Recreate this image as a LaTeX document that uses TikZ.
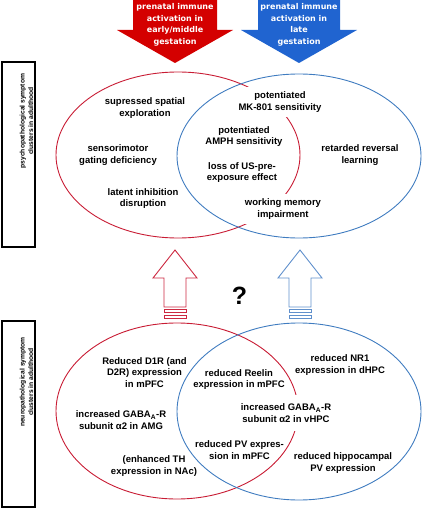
\documentclass[tikz,border=0pt]{standalone}
\usepackage{fontspec}
\setmainfont{Liberation Sans}
\newfontfamily\arrowfont{DejaVu Sans}
\usepackage{tikz}
\usetikzlibrary{shapes}

\definecolor{ArrowRed}{RGB}{212,0,0}
\definecolor{ArrowBlue}{RGB}{32,100,208}
\definecolor{RingRed}{RGB}{200,28,52}
\definecolor{RingBlue}{RGB}{64,124,192}
\definecolor{HollowRed}{RGB}{204,40,64}
\definecolor{HollowBlue}{RGB}{96,144,204}

\begin{document}
\begin{tikzpicture}[x=1pt, y=-1pt,
  ring/.style={draw, ellipse, line width=0.9pt, inner sep=0pt},
  lbl/.style={align=center, inner sep=1pt, font=\bfseries\fontsize{9.5}{11.5}\selectfont},
  cover/.style={fill=white, inner ysep=5pt},
  sidebox/.style={draw, line width=1.1pt, minimum width=33, minimum height=185, inner sep=0pt},
  sidetext/.style={rotate=90, align=center, inner sep=0pt, font=\bfseries\fontsize{6.7}{8.5}\selectfont},
  arrowtext/.style={align=center, text=white, inner sep=0pt, font=\arrowfont\bfseries\fontsize{8}{11.5}\selectfont}]

\fill[ArrowRed] (133,0) -- (217,0) -- (217,30) -- (233,30) -- (175,63) -- (117,30) -- (133,30) -- cycle;
\fill[ArrowBlue] (258,0) -- (340,0) -- (340,30) -- (357,30) -- (299,63) -- (241,30) -- (258,30) -- cycle;
\node[arrowtext] (early) at (175,25) {prenatal immune\\activation in\\early/middle\\gestation};
\node[arrowtext] (late) at (299,25) {prenatal immune\\activation in\\late\\gestation};

\node[sidebox] (psybox) at (18.5,154.5) {};
\node[sidetext] (psytext) at (26.5,121) {psychopathological symptom\\clusters in adulthood};
\node[sidebox, minimum height=186] (neurobox) at (18.5,414) {};
\node[sidetext] (neurotext) at (26.5,382) {neuropathological symptom\\clusters in adulthood};

\node[ring, RingRed, minimum width=244, minimum height=166] (psyearly) at (178,155) {};
\node[ring, RingBlue, minimum width=244, minimum height=164] (psylate) at (299,156) {};

\node[lbl] (spatial) at (145,108) {supressed spatial\\exploration};
\node[lbl] (gating) at (118,155) {sensorimotor\\gating deficiency};
\node[lbl] (latent) at (143,198.5) {latent inhibition\\disruption};
\node[lbl, cover] (mk) at (280,102) {potentiated\\MK-801 sensitivity};
\node[lbl] (amph) at (244,136.5) {potentiated\\AMPH sensitivity};
\node[lbl] (uspre) at (242,172.5) {loss of US-pre-\\exposure effect};
\node[lbl, cover] (memory) at (283,209) {working memory\\impairment};
\node[lbl] (reversal) at (360,155) {retarded reversal\\learning};

\draw[HollowRed, line width=0.9pt] (175,250) -- (197,278) -- (186,278) -- (186,307) -- (164,307) -- (164,278) -- (153,278) -- cycle;
\draw[HollowRed, line width=0.9pt] (164,309.5) rectangle (186,312.5);
\draw[HollowRed, line width=0.9pt] (164,315) rectangle (186,318);
\draw[HollowBlue, line width=0.9pt] (300,250) -- (322,278) -- (311,278) -- (311,307) -- (289,307) -- (289,278) -- (278,278) -- cycle;
\draw[HollowBlue, line width=0.9pt] (289,309.5) rectangle (311,312.5);
\draw[HollowBlue, line width=0.9pt] (289,315) rectangle (311,318);
\node[inner sep=0pt, font=\bfseries\fontsize{25}{25}\selectfont] (unknown) at (239.5,296) {?};

\node[ring, RingRed, minimum width=242, minimum height=176] (neuroearly) at (177,411) {};
\node[ring, RingBlue, minimum width=244, minimum height=177] (neurolate) at (299,411.5) {};

\node[lbl] (d1r) at (144.5,372.5) {Reduced D1R (and\\D2R) expression\\in mPFC};
\node[lbl] (reelin) at (239,379.5) {reduced Reelin\\expression in mPFC};
\node[lbl] (nr1) at (340,365) {reduced NR1\\expression in dHPC};
\node[lbl] (gabaamg) at (121,420) {increased GABA\textsubscript{A}-R\\subunit α2 in AMG};
\node[lbl, cover, inner ysep=9pt] (gabavhpc) at (286,413) {increased GABA\textsubscript{A}-R\\subunit α2 in vHPC};
\node[lbl] (pvmpfc) at (239.5,450) {reduced PV expres-\\sion in mPFC};
\node[lbl] (th) at (154,466) {(enhanced TH\\expression in NAc)};
\node[lbl] (pvhpc) at (343,463) {reduced hippocampal\\PV expression};

\path (0,0) to (422,508);
\end{tikzpicture}
\end{document}
